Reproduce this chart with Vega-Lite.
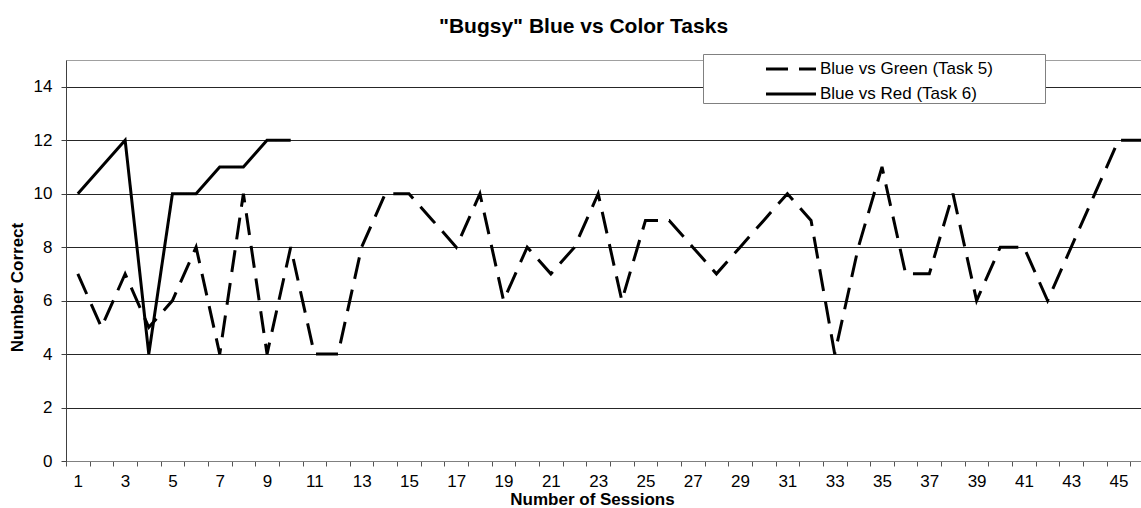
{
  "$schema": "https://vega.github.io/schema/vega-lite/v6.json",
  "width": 1075,
  "height": 401,
  "autosize": {"type": "none"},
  "padding": {"left": 66, "top": 60, "right": 0, "bottom": 47},
  "background": "white",
  "config": {
    "font": "Liberation Sans",
    "view": {"stroke": "#a0a0a0", "strokeWidth": 1}
  },
  "title": {
    "text": "\"Bugsy\" Blue vs Color Tasks",
    "font": "Liberation Sans",
    "fontSize": 21,
    "fontWeight": "bold",
    "color": "black",
    "anchor": "middle",
    "baseline": "alphabetic",
    "dx": -20,
    "dy": 28,
    "offset": 28
  },
  "data": {
    "values": [
      {"session": 1, "series": "Blue vs Green (Task 5)", "correct": 7},
      {"session": 2, "series": "Blue vs Green (Task 5)", "correct": 5},
      {"session": 3, "series": "Blue vs Green (Task 5)", "correct": 7},
      {"session": 4, "series": "Blue vs Green (Task 5)", "correct": 5},
      {"session": 5, "series": "Blue vs Green (Task 5)", "correct": 6},
      {"session": 6, "series": "Blue vs Green (Task 5)", "correct": 8},
      {"session": 7, "series": "Blue vs Green (Task 5)", "correct": 4},
      {"session": 8, "series": "Blue vs Green (Task 5)", "correct": 10},
      {"session": 9, "series": "Blue vs Green (Task 5)", "correct": 4},
      {"session": 10, "series": "Blue vs Green (Task 5)", "correct": 8},
      {"session": 11, "series": "Blue vs Green (Task 5)", "correct": 4},
      {"session": 12, "series": "Blue vs Green (Task 5)", "correct": 4},
      {"session": 13, "series": "Blue vs Green (Task 5)", "correct": 8},
      {"session": 14, "series": "Blue vs Green (Task 5)", "correct": 10},
      {"session": 15, "series": "Blue vs Green (Task 5)", "correct": 10},
      {"session": 16, "series": "Blue vs Green (Task 5)", "correct": 9},
      {"session": 17, "series": "Blue vs Green (Task 5)", "correct": 8},
      {"session": 18, "series": "Blue vs Green (Task 5)", "correct": 10},
      {"session": 19, "series": "Blue vs Green (Task 5)", "correct": 6},
      {"session": 20, "series": "Blue vs Green (Task 5)", "correct": 8},
      {"session": 21, "series": "Blue vs Green (Task 5)", "correct": 7},
      {"session": 22, "series": "Blue vs Green (Task 5)", "correct": 8},
      {"session": 23, "series": "Blue vs Green (Task 5)", "correct": 10},
      {"session": 24, "series": "Blue vs Green (Task 5)", "correct": 6},
      {"session": 25, "series": "Blue vs Green (Task 5)", "correct": 9},
      {"session": 26, "series": "Blue vs Green (Task 5)", "correct": 9},
      {"session": 27, "series": "Blue vs Green (Task 5)", "correct": 8},
      {"session": 28, "series": "Blue vs Green (Task 5)", "correct": 7},
      {"session": 29, "series": "Blue vs Green (Task 5)", "correct": 8},
      {"session": 30, "series": "Blue vs Green (Task 5)", "correct": 9},
      {"session": 31, "series": "Blue vs Green (Task 5)", "correct": 10},
      {"session": 32, "series": "Blue vs Green (Task 5)", "correct": 9},
      {"session": 33, "series": "Blue vs Green (Task 5)", "correct": 4},
      {"session": 34, "series": "Blue vs Green (Task 5)", "correct": 8},
      {"session": 35, "series": "Blue vs Green (Task 5)", "correct": 11},
      {"session": 36, "series": "Blue vs Green (Task 5)", "correct": 7},
      {"session": 37, "series": "Blue vs Green (Task 5)", "correct": 7},
      {"session": 38, "series": "Blue vs Green (Task 5)", "correct": 10},
      {"session": 39, "series": "Blue vs Green (Task 5)", "correct": 6},
      {"session": 40, "series": "Blue vs Green (Task 5)", "correct": 8},
      {"session": 41, "series": "Blue vs Green (Task 5)", "correct": 8},
      {"session": 42, "series": "Blue vs Green (Task 5)", "correct": 6},
      {"session": 43, "series": "Blue vs Green (Task 5)", "correct": 8},
      {"session": 44, "series": "Blue vs Green (Task 5)", "correct": 10},
      {"session": 45, "series": "Blue vs Green (Task 5)", "correct": 12},
      {"session": 46, "series": "Blue vs Green (Task 5)", "correct": 12},
      {"session": 1, "series": "Blue vs Red (Task 6)", "correct": 10},
      {"session": 2, "series": "Blue vs Red (Task 6)", "correct": 11},
      {"session": 3, "series": "Blue vs Red (Task 6)", "correct": 12},
      {"session": 4, "series": "Blue vs Red (Task 6)", "correct": 4},
      {"session": 5, "series": "Blue vs Red (Task 6)", "correct": 10},
      {"session": 6, "series": "Blue vs Red (Task 6)", "correct": 10},
      {"session": 7, "series": "Blue vs Red (Task 6)", "correct": 11},
      {"session": 8, "series": "Blue vs Red (Task 6)", "correct": 11},
      {"session": 9, "series": "Blue vs Red (Task 6)", "correct": 12},
      {"session": 10, "series": "Blue vs Red (Task 6)", "correct": 12}
    ]
  },
  "mark": {"type": "line", "color": "black", "strokeWidth": 3, "clip": true},
  "encoding": {
    "x": {
      "field": "session",
      "type": "quantitative",
      "scale": {"domain": [0.5, 45.95], "nice": false, "zero": false},
      "axis": {
        "values": [0.5, 1.5, 2.5, 3.5, 4.5, 5.5, 6.5, 7.5, 8.5, 9.5, 10.5, 11.5, 12.5, 13.5, 14.5, 15.5, 16.5, 17.5, 18.5, 19.5, 20.5, 21.5, 22.5, 23.5, 24.5, 25.5, 26.5, 27.5, 28.5, 29.5, 30.5, 31.5, 32.5, 33.5, 34.5, 35.5, 36.5, 37.5, 38.5, 39.5, 40.5, 41.5, 42.5, 43.5, 44.5, 45.5],
        "labelExpr": "((datum.value + 0.5) % 2 == 1) && datum.value < 45 ? format(datum.value + 0.5, 'd') : ''",
        "labelOffset": 11.8,
        "labelFlush": false,
        "labelOverlap": false,
        "labelBound": false,
        "labelFontSize": 17,
        "labelColor": "black",
        "labelPadding": 7,
        "tickSize": 5,
        "tickColor": "#555555",
        "domainColor": "#808080",
        "grid": false,
        "title": "Number of Sessions",
        "titleFontSize": 17,
        "titleFontWeight": "bold",
        "titleColor": "black",
        "titleX": 526,
        "titleY": 43,
        "titleAlign": "center",
        "titleBaseline": "alphabetic"
      }
    },
    "y": {
      "field": "correct",
      "type": "quantitative",
      "scale": {"domain": [0, 15], "nice": false},
      "axis": {
        "values": [0, 2, 4, 6, 8, 10, 12, 14],
        "labelFontSize": 17,
        "labelColor": "black",
        "labelPadding": 9,
        "tickSize": 5,
        "tickColor": "#404040",
        "domainColor": "#404040",
        "grid": true,
        "gridColor": "#262626",
        "gridOpacity": 1,
        "gridWidth": 1,
        "title": "Number Correct",
        "titleFontSize": 17,
        "titleFontWeight": "bold",
        "titleColor": "black",
        "titleAngle": 270,
        "titleX": -49,
        "titleY": 227,
        "titleAlign": "center",
        "titleBaseline": "middle"
      }
    },
    "strokeDash": {
      "field": "series",
      "type": "nominal",
      "scale": {
        "domain": ["Blue vs Green (Task 5)", "Blue vs Red (Task 6)"],
        "range": [[22, 11], [1, 0]]
      },
      "legend": {
        "orient": "none",
        "legendX": 637,
        "legendY": -6,
        "title": "\u00a0",
        "titleOrient": "right",
        "titlePadding": 51,
        "titleFontSize": 4,
        "symbolType": "M-2,0H2",
        "symbolSize": 625,
        "symbolStrokeWidth": 3,
        "symbolStrokeColor": "black",
        "symbolOffset": 73,
        "labelFont": "Liberation Sans",
        "labelFontSize": 17,
        "labelColor": "black",
        "labelLimit": 500,
        "labelOffset": 15,
        "padding": 1,
        "rowPadding": 3,
        "strokeColor": "#808080",
        "fillColor": "white"
      }
    }
  }
}
